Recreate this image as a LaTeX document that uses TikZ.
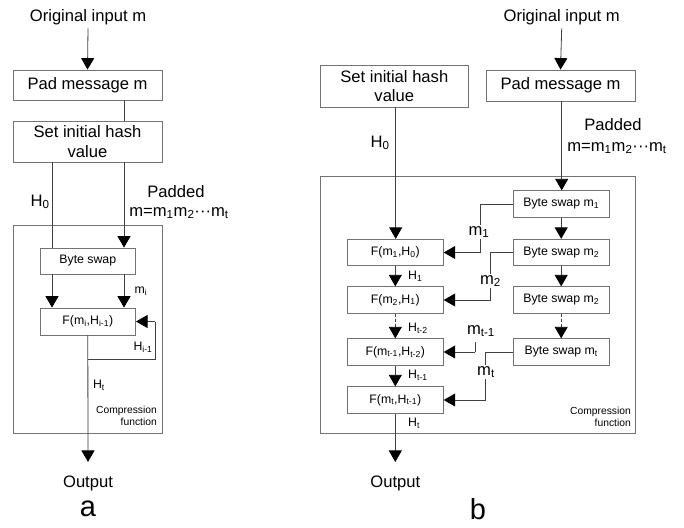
\documentclass[tikz,border=0pt]{standalone}
\usepackage{fontspec}
\setmainfont{Liberation Sans}
\usetikzlibrary{arrows.meta}
\newcommand{\sbs}[1]{\textsubscript{#1}}
\begin{document}
\begin{tikzpicture}[x=1pt,y=-1pt,
  box/.style={draw=black!55, line width=0.8pt, inner sep=0pt, align=center},
  bigtxt/.style={font=\fontsize{16.6}{19.5}\selectfont},
  smalltxt/.style={font=\fontsize{12.3}{14}\selectfont},
  conn/.style={draw=black!75, line width=0.8pt},
  arr/.style={conn, -{Triangle[width=13pt,length=11.5pt,color=black,fill=black]}},
  dasharr/.style={arr, densely dashed},
  lab/.style={inner sep=1pt},
  mlab/.style={bigtxt, fill=white, inner sep=1pt},
  note/.style={font=\fontsize{10.3}{12.5}\selectfont, align=right, anchor=east, inner sep=0pt},
  tag/.style={font=\fontsize{29}{32}\selectfont}]
\useasboundingbox (0,0) rectangle (684,527);

% ---------------- Panel a: iterative compression ----------------
\node[bigtxt] (orig_a) at (88,17) {Original input m};
\node[box, bigtxt, minimum width=149pt, minimum height=30pt] (pad_a) at (87.5,85) {Pad message m};
\node[box, bigtxt, minimum width=149pt, minimum height=41pt] (init_a) at (87.5,141.5) {Set initial hash\\value};
\node[box, minimum width=149pt, minimum height=208pt] (comp_a) at (87.5,329) {};
\node[box, smalltxt, minimum width=95.7pt, minimum height=26pt] (bs_a) at (87.8,261) {Byte swap};
\node[box, smalltxt, minimum width=95.7pt, minimum height=27pt] (f_a) at (87.8,321.5) {F(m\sbs{i},H\sbs{i-1})};
\node[bigtxt] (out_a) at (88,483) {Output};
\node[tag] (tag_a) at (88,509) {a};

\coordinate (colL_a) at (52,0);
\coordinate (colR_a) at (124,0);
\coordinate (fb_a) at (155,359);

\draw[arr] (orig_a.south) -- (pad_a.north);
\draw[conn] (pad_a.south -| colR_a) -- (init_a.north -| colR_a);
\draw[conn] (init_a.south -| colL_a) -- (bs_a.north -| colL_a);
\draw[arr] (init_a.south -| colR_a) -- (bs_a.north -| colR_a);
\draw[arr] (bs_a.south -| colL_a) -- (f_a.north -| colL_a);
\draw[arr] (bs_a.south -| colR_a) -- (f_a.north -| colR_a);
\draw[conn] (f_a.south |- fb_a) -| (fb_a |- f_a.east);
\draw[arr] (fb_a |- f_a.east) -- (f_a.east);
\draw[arr] (f_a.south) -- ([yshift=10pt]out_a.north);

\node[bigtxt, lab] (h0_a) at (40,202) {H\sbs{0}};
\node[bigtxt, lab] (padded_a) at (176,192) {Padded};
\node[bigtxt, lab] (mseq_a) at (179,213) {m=m\sbs{1}m\sbs{2}···m\sbs{t}};
\node[smalltxt, lab] (mi_a) at (141,291) {m\sbs{i}};
\node[smalltxt, lab] (hprev_a) at (143,347) {H\sbs{i-1}};
\node[smalltxt, lab] (ht_a) at (99,385) {H\sbs{t}};
\node[note] (cf_a) at (157,416) {Compression\\function};

% ---------------- Panel b: unrolled compression ----------------
\node[bigtxt] (orig_b) at (561.7,17) {Original input m};
\node[box, bigtxt, minimum width=147.3pt, minimum height=42pt] (init_b) at (394.3,86) {Set initial hash\\value};
\node[box, bigtxt, minimum width=149pt, minimum height=31pt] (pad_b) at (560.5,85.5) {Pad message m};
\node[box, minimum width=315pt, minimum height=257pt] (comp_b) at (478.2,304.5) {};

\node[box, smalltxt, minimum width=96.3pt, minimum height=26.5pt] (bs1) at (561.2,204) {Byte swap m\sbs{1}};
\node[box, smalltxt, minimum width=96.3pt, minimum height=26.5pt] (bs2) at (561.2,252.5) {Byte swap m\sbs{2}};
\node[box, smalltxt, minimum width=96.3pt, minimum height=26.5pt] (bs3) at (561.2,300) {Byte swap m\sbs{2}};
\node[box, smalltxt, minimum width=96.3pt, minimum height=26.5pt] (bs4) at (561.2,352) {Byte swap m\sbs{t}};

\node[box, smalltxt, minimum width=96pt, minimum height=26.5pt] (f1) at (395.3,252.5) {F(m\sbs{1},H\sbs{0})};
\node[box, smalltxt, minimum width=96pt, minimum height=26.5pt] (f2) at (395.3,300) {F(m\sbs{2},H\sbs{1})};
\node[box, smalltxt, minimum width=96pt, minimum height=26.5pt] (f3) at (395.3,352) {F(m\sbs{t-1},H\sbs{t-2})};
\node[box, smalltxt, minimum width=96pt, minimum height=26.5pt] (f4) at (395.3,400) {F(m\sbs{t},H\sbs{t-1})};

\node[bigtxt] (out_b) at (395.3,483) {Output};
\node[tag] (tag_b) at (478,509) {b};

\coordinate (colH_b) at (395.7,0);
\coordinate (colP_b) at (561.7,0);

\draw[arr] (orig_b.south) -- (pad_b.north);
\draw[arr] (init_b.south -| colH_b) -- (f1.north -| colH_b);
\draw[arr] (pad_b.south -| colP_b) -- (bs1.north -| colP_b);

\draw[arr] (bs1) -- (bs2);
\draw[arr] (bs2) -- (bs3);
\draw[dasharr] (bs3) -- (bs4);

\draw[arr] (f1) -- (f2);
\draw[dasharr] (f2) -- (f3);
\draw[arr] (f3) -- (f4);
\draw[arr] (f4.south) -- ([yshift=10pt]out_b.north);

% message blocks routed from the byte swaps into the F boxes
\coordinate (r1) at (480,0);
\coordinate (r2) at (490.7,0);
\coordinate (r3) at (475,342);
\coordinate (r4) at (485.7,0);
\draw[conn] (bs1.west) -| (r1 |- f1.east);
\draw[arr] (r1 |- f1.east) -- (f1.east);
\draw[conn] (bs2.west) -| (r2 |- f2.east);
\draw[arr] (r2 |- f2.east) -- (f2.east);
\draw[conn] (r3) -- (r3 |- f3.east);
\draw[arr] (r3 |- f3.east) -- (f3.east);
\draw[conn] (bs4.west) -| (r4 |- f4.east);
\draw[arr] (r4 |- f4.east) -- (f4.east);

\node[mlab] (m1_b) at (479,232) {m\sbs{1}};
\node[mlab] (m2_b) at (490.5,281) {m\sbs{2}};
\node[mlab] (mt1_b) at (481,331) {m\sbs{t-1}};
\node[mlab] (mt_b) at (486,372) {m\sbs{t}};

\node[bigtxt, lab] (h0_b) at (380,143) {H\sbs{0}};
\node[bigtxt, lab] (padded_b) at (613,125) {Padded};
\node[bigtxt, lab] (mseq_b) at (617,148) {m=m\sbs{1}m\sbs{2}···m\sbs{t}};
\node[smalltxt, lab, anchor=west] (h1_b) at (407,276) {H\sbs{1}};
\node[smalltxt, lab, anchor=west] (ht2_b) at (407,328) {H\sbs{t-2}};
\node[smalltxt, lab, anchor=west] (ht1_b) at (407,375) {H\sbs{t-1}};
\node[smalltxt, lab, anchor=west] (ht_b) at (407,423) {H\sbs{t}};
\node[note] (cf_b) at (631,417) {Compression\\function};
\end{tikzpicture}
\end{document}
